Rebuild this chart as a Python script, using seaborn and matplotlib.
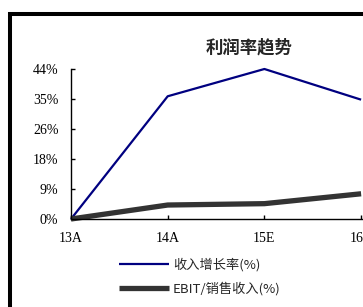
import numpy as np
import pandas as pd
import matplotlib
matplotlib.use("Agg")
import matplotlib.pyplot as plt
import matplotlib.patches as patches
import seaborn as sns

# 数据
years = ["13A", "14A", "15E", "16E"]
revenue_growth = [0.0, 36.0, 44.0, 35.0]   # 收入增长率(%)
ebit_margin = [0.0, 4.1, 4.5, 7.4]         # EBIT/销售收入(%)
y_ticks = np.linspace(0, 44, 6)

sns.set_style("white")
plt.rcParams['font.family'] = ['Liberation Serif', 'Noto Sans CJK SC']

df = pd.DataFrame({"年份": years, "收入增长率(%)": revenue_growth,
                   "EBIT/销售收入(%)": ebit_margin})

fig = plt.figure(figsize=(3.63, 3.07), dpi=100)
W, H = 363, 307
ax = fig.add_axes([71 / W, (H - 219) / H, 3.2 * 96.7 / W, 150 / H])

sns.lineplot(data=df, x="年份", y="收入增长率(%)", ax=ax, color="#000080",
             lw=1.6, label="收入增长率(%)", clip_on=False, solid_capstyle="butt")
sns.lineplot(data=df, x="年份", y="EBIT/销售收入(%)", ax=ax, color="#333333",
             lw=3.8, label="EBIT/销售收入(%)", clip_on=False, solid_capstyle="butt")

ax.set_xlim(0, 3.2)
ax.set_ylim(0, 44)
ax.set_yticks(y_ticks)
ax.set_yticklabels([f"{v:.0f}%" for v in y_ticks])
ax.set_xlabel("")
ax.set_ylabel("")
for s in ["top", "right"]:
    ax.spines[s].set_visible(False)
for s in ["left", "bottom"]:
    ax.spines[s].set_color("black")
    ax.spines[s].set_linewidth(1.0)
ax.tick_params(axis="y", direction="in", length=3, width=1, pad=9,
               labelsize=10, colors="black", left=True)
ax.tick_params(axis="x", direction="in", length=3, width=1, pad=9,
               labelsize=10, colors="black", bottom=True)
ax.get_legend().remove()

fig.text(249 / W, 1 - 47 / H, "利润率趋势", ha="center", va="center",
         fontsize=12.5, fontweight="bold", family=["Noto Sans CJK SC"])

handles, labels = ax.get_legend_handles_labels()
fig.legend(handles, labels, loc="center left",
           bbox_to_anchor=(119 / W, 1 - 277 / H), frameon=False,
           borderpad=0, borderaxespad=0, handlelength=3.8, handletextpad=0.3,
           labelspacing=0.8, prop={"family": ["Noto Sans CJK SC"], "size": 9.5})

# 外框
fig.patches.append(patches.Rectangle((10 / W, -0.5), 2, 1 - 13.5 / H + 0.5,
                                     transform=fig.transFigure, fill=False,
                                     lw=2.9, edgecolor="black", clip_on=False))

fig.savefig("out.png", dpi=100)
